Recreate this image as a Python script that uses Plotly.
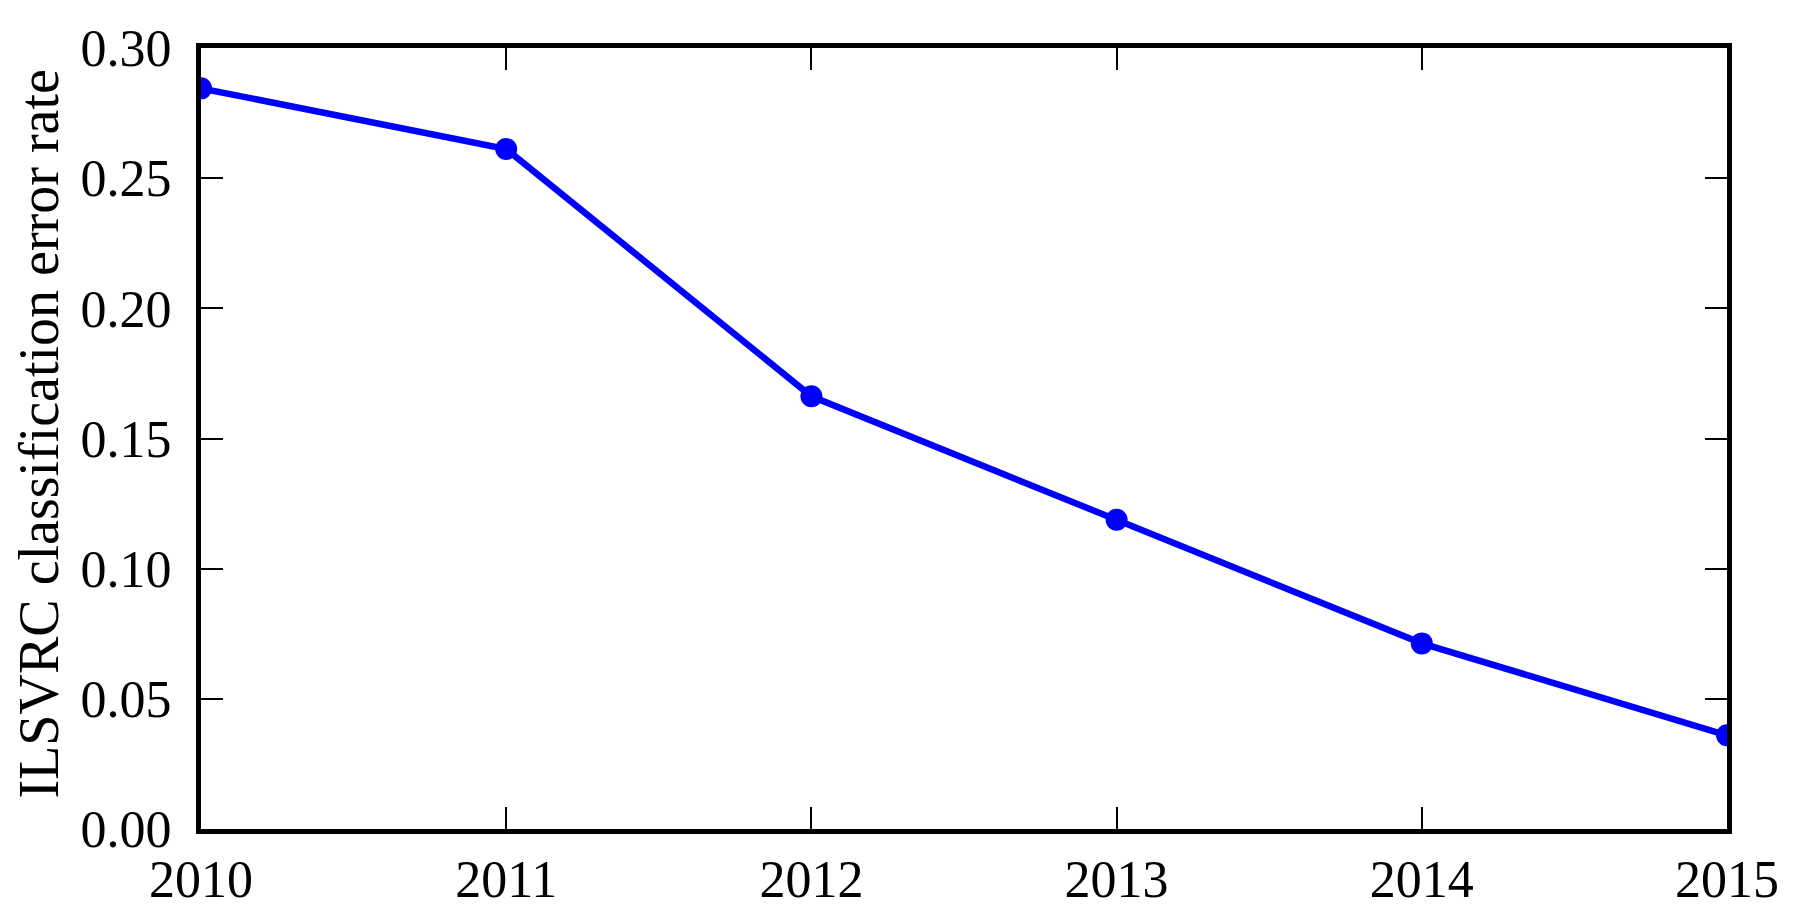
import plotly.graph_objects as go

years = [2010, 2011, 2012, 2013, 2014, 2015]
error_rate = [0.2845, 0.2612, 0.1662, 0.1188, 0.0713, 0.0360]
x_ticks = [2010, 2011, 2012, 2013, 2014, 2015]
y_ticks = [0.00, 0.05, 0.10, 0.15, 0.20, 0.25, 0.30]
y_tick_labels = ["0.00", "0.05", "0.10", "0.15", "0.20", "0.25", "0.30"]
y_title = "ILSVRC classification error rate"

FONT = "Liberation Serif"

fig = go.Figure()
fig.add_trace(go.Scatter(
    x=years, y=error_rate, mode="lines+markers",
    line=dict(color="#0000ff", width=6.5),
    marker=dict(color="#0000ff", size=22),
    cliponaxis=True,
))

axis_common = dict(
    showline=True, linecolor="black", linewidth=5, mirror="allticks",
    ticks="inside", ticklen=22, tickwidth=2, tickcolor="black",
    showgrid=False, zeroline=False,
    tickfont=dict(family=FONT, size=52, color="black"),
)

fig.update_layout(
    width=1802, height=923,
    margin=dict(l=193, r=83, t=31, b=102),
    paper_bgcolor="white", plot_bgcolor="white",
    showlegend=False,
    xaxis=dict(range=[2010, 2015], tickvals=x_ticks,
               ticktext=[str(v) for v in x_ticks], ticklabelstandoff=1,
               **axis_common),
    yaxis=dict(range=[0, 0.30], tickvals=y_ticks, ticktext=y_tick_labels,
               ticklabelstandoff=14, **axis_common),
    annotations=[dict(
        text=y_title, xref="paper", yref="paper", x=0, y=0.5,
        xanchor="center", yanchor="middle", xshift=-163, yshift=4,
        textangle=-90, showarrow=False, borderpad=0,
        font=dict(family=FONT, size=56, color="black"),
    )],
)

fig.write_html("out.html")
